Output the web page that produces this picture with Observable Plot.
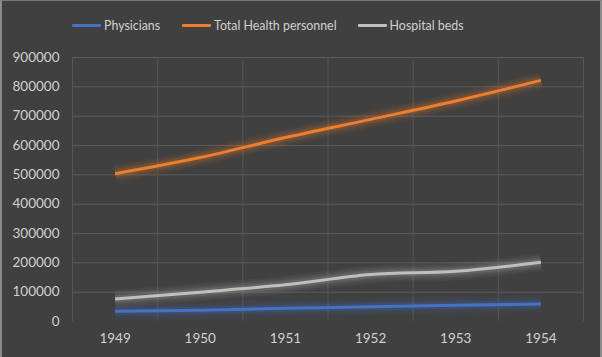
<!DOCTYPE html>
<html>
<head>
<meta charset="utf-8">
<script src="https://cdn.jsdelivr.net/npm/d3@7"></script>
<script src="https://cdn.jsdelivr.net/npm/@observablehq/plot@0.6"></script>
<style>
  html, body { margin: 0; padding: 0; background: #404040; }
  #chart {
    width: 602px; height: 357px; box-sizing: border-box;
    background: #404040; position: relative; overflow: hidden;
    border-left: 2px solid #8c8c8c; border-right: 2px solid #8c8c8c; border-top: 1px solid #777;
    font-family: Lato, "Open Sans", sans-serif;
  }
  #legend {
    height: 39px; display: flex; align-items: center; padding-left: 70px;
    color: #d0d0d0; font-size: 12.4px; box-sizing: border-box; padding-top: 9px;
  }
  .item { display: flex; align-items: center; }
  .sw { width: 29px; height: 3px; border-radius: 1px; margin-right: 3px; }
  #plot svg { display: block; }
</style>
</head>
<body>
<div id="chart">
  <div id="legend"></div>
  <div id="plot"></div>
</div>
<script>
const years = [1949, 1950, 1951, 1952, 1953, 1954];
const physicians = [35000, 38000, 45000, 50000, 55000, 60000];
const totalHealth = [504000, 559000, 627000, 689000, 752000, 822000];
const hospitalBeds = [77000, 100000, 125000, 160000, 171000, 202000];
const seriesNames = ["Physicians", "Total Health personnel", "Hospital beds"];
const seriesColors = ["#4472C4", "#ED7D31", "#BFBFBF"];
const yTicks = [0, 100000, 200000, 300000, 400000, 500000, 600000, 700000, 800000, 900000];

const seriesValues = [physicians, totalHealth, hospitalBeds];
const data = [];
seriesNames.forEach((s, i) => years.forEach((y, j) => data.push({series: s, year: y, value: seriesValues[i][j]})));
const bounds = years.map(y => y - 0.5).concat([years[years.length - 1] + 0.5]);

// Legend
const legend = document.getElementById("legend");
const gaps = [22, 21, 0];
seriesNames.forEach((s, i) => {
  const it = document.createElement("div");
  it.className = "item";
  it.style.marginRight = gaps[i] + "px";
  it.innerHTML = `<span class="sw" style="background:${seriesColors[i]}"></span><span>${s}</span>`;
  legend.appendChild(it);
});

const lineOpts = {x: "year", y: "value", z: "series", stroke: "series", curve: "catmull-rom", strokeLinecap: "butt"};
const glowLayers = [[18, 0.05], [14, 0.07], [10, 0.09], [7, 0.12]].map(([w, o]) =>
  Plot.line(data, {...lineOpts, strokeWidth: w, strokeOpacity: o}));

const plot = Plot.plot({
  width: 598,
  height: 317,
  marginTop: 17,
  marginBottom: 36,
  marginLeft: 70,
  marginRight: 17,
  style: {background: "transparent", color: "#d0d0d0", fontSize: "13.5px", fontFamily: "Lato, 'Open Sans', sans-serif"},
  x: {domain: [bounds[0], bounds[bounds.length - 1]], ticks: years, tickFormat: "d", tickSize: 0, tickPadding: 12, label: null},
  y: {domain: [0, 900000], ticks: yTicks, tickFormat: d => String(d), tickSize: 0, tickPadding: 13, label: null},
  color: {domain: seriesNames, range: seriesColors},
  marks: [
    Plot.ruleY(yTicks.filter(d => d > 0), {stroke: "#5a5a5a", strokeWidth: 1}),
    Plot.ruleX(bounds, {y1: 0, y2: 900000, stroke: "#555555", strokeWidth: 1}),
    ...glowLayers,
    Plot.line(data, {...lineOpts, strokeWidth: 3})
  ]
});
document.getElementById("plot").appendChild(plot);
</script>
</body>
</html>
